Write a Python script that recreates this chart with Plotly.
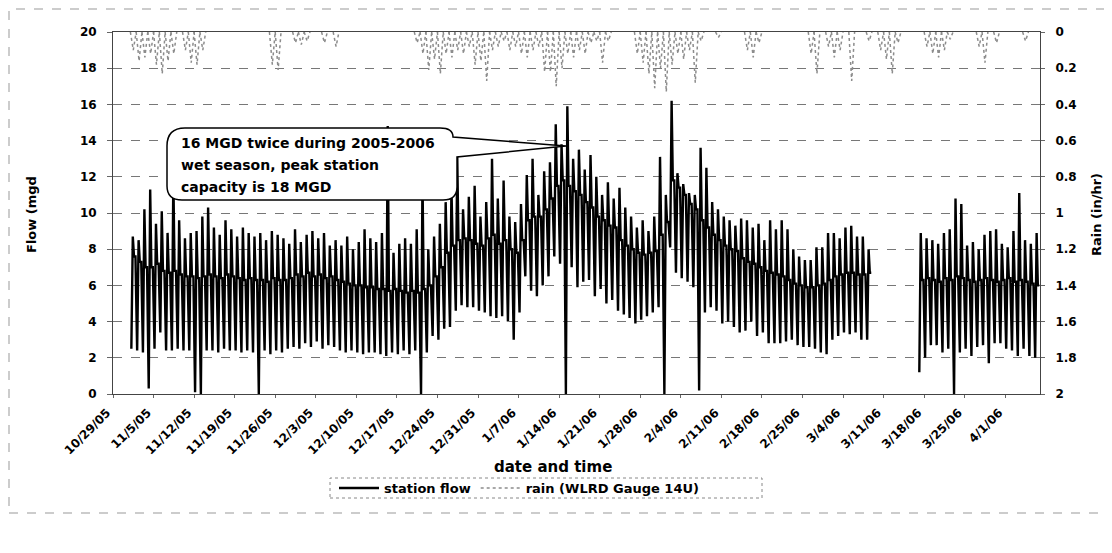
import pandas as pd
import plotly.graph_objects as go

# ---------------- data ----------------
# Station flow, daily min / max / typical level (mgd)
seg1_start = "2005-11-01"   # 128 days, through 3/8/06
seg2_start = "2006-03-17"   # 21 days, through 4/6/06

flow_max_1 = [
    8.7, 8.5, 10.2, 11.3, 9.4, 10.1, 8.9,
    12.0, 9.6, 8.6, 8.9, 9.0, 9.8, 10.3,
    9.2, 8.8, 9.6, 9.1, 8.7, 9.2, 8.9,
    8.7, 8.9, 8.5, 9.0, 8.8, 8.6, 8.3,
    9.1, 8.4, 8.8, 9.0, 8.6, 8.9, 8.2,
    8.5, 8.2, 8.7, 8.0, 8.4, 9.1, 8.6,
    8.4, 8.9, 14.8, 7.8, 8.3, 8.6, 8.3,
    9.1, 12.0, 8.0, 8.7, 9.4, 10.6, 11.4,
    13.1, 10.2, 10.9, 11.5, 9.8, 10.6, 13.0,
    10.8, 11.8, 9.8, 9.5, 10.5, 12.1, 13.0,
    11.0, 12.3, 12.8, 14.9, 13.8, 15.9, 13.0,
    13.5, 12.4, 13.2, 12.0, 11.0, 11.7, 10.8,
    11.4, 10.3, 9.8, 9.2, 9.6, 9.0, 9.8,
    13.1, 11.0, 16.2, 12.2, 11.6, 11.1, 11.0,
    13.6, 12.5, 10.6, 10.2, 9.8, 9.6, 9.3,
    9.7, 9.6, 9.2, 9.4, 8.5, 9.6, 9.1,
    9.6, 9.1, 8.0, 7.6, 7.4, 7.4, 8.1,
    8.1, 8.9, 8.9, 8.6, 9.2, 9.3, 8.7,
    8.7, 8.0,
]
flow_min_1 = [
    2.5, 2.4, 2.3, 0.3, 2.5, 3.4, 2.4,
    2.4, 2.5, 2.4, 2.4, 0.1, 0.0, 2.4,
    2.4, 2.3, 2.5, 2.4, 2.4, 2.3, 2.4,
    2.3, 0.0, 2.4, 2.2, 2.4, 2.3, 2.5,
    2.6, 2.5, 2.8, 2.6, 2.9, 2.5, 2.7,
    2.6, 2.4, 2.3, 2.4, 2.3, 2.2, 2.3,
    2.3, 2.2, 2.1, 2.3, 2.2, 2.4, 2.2,
    2.4, 0.0, 2.3, 3.2, 3.0, 3.6, 3.7,
    4.6, 4.9, 4.8, 4.8, 4.6, 4.5, 4.3,
    4.2, 4.3, 4.0, 3.0, 4.5, 6.5, 5.7,
    5.4, 6.0, 6.5, 7.6, 7.2, 0.0, 7.0,
    5.9, 6.2, 6.3, 5.4, 5.8, 5.0, 5.2,
    4.6, 4.4, 4.2, 3.9, 4.1, 4.3, 4.5,
    4.8, 0.0, 8.1, 6.7, 6.4, 6.2, 5.9,
    0.2, 4.5, 4.8, 4.6, 3.9, 4.0, 3.7,
    3.4, 3.5, 4.0, 3.2, 3.4, 2.8, 2.8,
    2.8, 2.9, 3.0, 2.7, 2.6, 2.6, 2.5,
    2.3, 2.2, 3.0, 3.2, 3.4, 3.3, 3.4,
    3.0, 3.0,
]
flow_mid_1 = [
    7.6, 7.3, 7.0, 7.0, 7.2, 6.8, 6.7,
    6.8, 6.6, 6.5, 6.5, 6.4, 6.5, 6.6,
    6.5, 6.4, 6.6, 6.5, 6.4, 6.3, 6.4,
    6.3, 6.3, 6.2, 6.4, 6.3, 6.3, 6.4,
    6.6, 6.5, 6.7, 6.5, 6.6, 6.4, 6.5,
    6.3, 6.2, 6.1, 6.0, 6.0, 5.9, 5.9,
    5.8, 5.8, 5.7, 5.8, 5.7, 5.6, 5.7,
    5.6, 5.8, 6.0, 6.5, 7.0, 7.8, 8.2,
    8.5, 8.6, 8.5, 8.3, 8.2, 8.6, 8.8,
    8.3, 8.5, 8.0, 7.8, 8.5, 9.6, 9.8,
    9.8, 10.2, 10.8, 11.5, 11.8, 11.5, 11.2,
    11.0, 10.6, 10.3, 9.8, 9.6, 9.3, 9.2,
    8.5, 8.2, 8.0, 7.8, 7.7, 7.8, 7.9,
    8.8, 9.5, 11.8, 11.4, 11.0, 10.5, 10.2,
    9.6, 9.2, 8.8, 8.5, 8.2, 8.0, 7.9,
    7.5, 7.3, 7.2, 7.0, 6.8, 6.7, 6.6,
    6.5, 6.3, 6.1, 6.0, 5.9, 5.9, 6.0,
    6.1, 6.3, 6.5, 6.6, 6.7, 6.7, 6.6,
    6.6, 6.7,
]
flow_max_2 = [8.9, 8.6, 8.5, 8.3, 8.9, 9.1, 10.8, 10.5, 8.2, 8.4, 8.0,
              8.8, 9.0, 9.1, 8.3, 8.1, 9.0, 11.1, 8.5, 8.3, 8.9]
flow_min_2 = [1.2, 2.0, 2.7, 2.7, 2.3, 2.5, 0.0, 2.3, 2.5, 2.1, 2.6,
              2.7, 1.7, 2.8, 2.8, 2.5, 2.4, 2.1, 2.5, 2.1, 2.0]
flow_mid_2 = [6.3, 6.4, 6.3, 6.2, 6.4, 6.3, 6.5, 6.4, 6.3, 6.2, 6.3,
              6.4, 6.3, 6.2, 6.3, 6.4, 6.2, 6.3, 6.2, 6.1, 6.0]

# Rain (in/hr), daily peak intensity on rainy days
rain_dates = [
    "2005-11-01", "2005-11-02", "2005-11-03", "2005-11-04", "2005-11-05", "2005-11-06",
    "2005-11-07", "2005-11-08", "2005-11-10", "2005-11-11", "2005-11-12", "2005-11-13",
    "2005-11-25", "2005-11-26", "2005-11-29", "2005-11-30", "2005-12-01", "2005-12-04",
    "2005-12-06", "2005-12-20", "2005-12-21", "2005-12-22", "2005-12-23", "2005-12-24",
    "2005-12-25", "2005-12-26", "2005-12-27", "2005-12-28", "2005-12-29", "2005-12-30",
    "2005-12-31", "2006-01-01", "2006-01-02", "2006-01-03", "2006-01-04", "2006-01-05",
    "2006-01-06", "2006-01-07", "2006-01-08", "2006-01-09", "2006-01-10", "2006-01-11",
    "2006-01-12", "2006-01-13", "2006-01-14", "2006-01-15", "2006-01-16", "2006-01-17",
    "2006-01-18", "2006-01-19", "2006-01-20", "2006-01-21", "2006-01-22", "2006-01-27",
    "2006-01-28", "2006-01-29", "2006-01-30", "2006-01-31", "2006-02-01", "2006-02-02",
    "2006-02-03", "2006-02-04", "2006-02-05", "2006-02-06", "2006-02-07", "2006-02-10",
    "2006-02-15", "2006-02-16", "2006-02-17", "2006-02-26", "2006-02-27", "2006-03-01",
    "2006-03-02", "2006-03-03", "2006-03-05", "2006-03-08", "2006-03-10", "2006-03-11",
    "2006-03-12", "2006-03-13", "2006-03-18", "2006-03-19", "2006-03-20", "2006-03-21",
    "2006-03-22", "2006-03-27", "2006-03-28", "2006-03-30", "2006-04-04",
]
rain_peak = [
    0.10, 0.16, 0.14, 0.12, 0.18, 0.23,
    0.16, 0.12, 0.10, 0.17, 0.18, 0.10,
    0.18, 0.21, 0.06, 0.07, 0.05, 0.06,
    0.08, 0.06, 0.12, 0.21, 0.15, 0.23,
    0.12, 0.14, 0.10, 0.12, 0.08, 0.18,
    0.16, 0.27, 0.10, 0.08, 0.05, 0.10,
    0.08, 0.12, 0.14, 0.10, 0.08, 0.22,
    0.22, 0.30, 0.20, 0.12, 0.14, 0.10,
    0.12, 0.06, 0.05, 0.17, 0.05, 0.12,
    0.17, 0.23, 0.31, 0.20, 0.33, 0.18,
    0.12, 0.15, 0.10, 0.28, 0.05, 0.03,
    0.10, 0.14, 0.06, 0.12, 0.23, 0.08,
    0.14, 0.10, 0.27, 0.05, 0.10, 0.15,
    0.23, 0.06, 0.08, 0.12, 0.14, 0.10,
    0.04, 0.08, 0.17, 0.06, 0.05,
]

x_ticks_start = "2005-10-29"
x_range = ["2005-10-29", "2006-04-07"]

# ---------------- build series ----------------
H = pd.Timedelta(hours=1)


def diurnal(start, mins, maxs, mids):
    days = pd.date_range(start, periods=len(maxs), freq="D")
    xs, ys = [], []
    for d, lo, hi, md in zip(days, mins, maxs, mids):
        xs += [d + 4 * H, d + 10 * H, d + 15 * H, d + 21 * H]
        ys += [lo, hi, md, md]
    return xs, ys


x1, y1 = diurnal(seg1_start, flow_min_1, flow_max_1, flow_mid_1)
x2, y2 = diurnal(seg2_start, flow_min_2, flow_max_2, flow_mid_2)
flow_x = x1 + [x1[-1] + 6 * H] + x2
flow_y = y1 + [None] + y2

rx, ry = [], []
for ds, v in zip(rain_dates, rain_peak):
    d = pd.Timestamp(ds)
    rx += [d, d + 12 * H, d + 24 * H, None]
    ry += [0, v, 0, None]

# ---------------- geometry helpers (screen pixel -> paper) ----------------
# the page body has an 8px margin, so the figure is offset by 8px on screen
OFF = 8
L, R, T, B = 113, 1040, 32, 394
W, HGT = 1112, 553


def px(x):
    return (x - L) / (R - L)


def py(y):
    return (B - y) / (B - T)


FONT = "DejaVu Sans"

fig = go.Figure()
fig.add_trace(go.Scatter(
    x=rx, y=ry, mode="lines", name="rain (WLRD Gauge 14U)", yaxis="y2",
    line=dict(color="#8c8c8c", width=1.5, dash="dot"), connectgaps=False,
))
fig.add_trace(go.Scatter(
    x=flow_x, y=flow_y, mode="lines", name="station flow",
    line=dict(color="black", width=2.4), connectgaps=False,
))

fig.update_layout(
    width=W, height=HGT,
    margin=dict(l=L - OFF, r=W - (R - OFF), t=T - OFF, b=HGT - (B - OFF), autoexpand=False),
    paper_bgcolor="white", plot_bgcolor="white",
    font=dict(family=FONT, color="black", size=12, weight="bold"),
    showlegend=True,
    legend=dict(orientation="h", x=px(334), xanchor="left", y=py(488), yanchor="middle",
                font=dict(size=13, family=FONT, weight="bold"), bgcolor="rgba(0,0,0,0)",
                itemwidth=40, tracegroupgap=0, traceorder="reversed"),
    xaxis=dict(type="date", range=x_range, tick0=x_ticks_start, dtick=7 * 86400000,
               tickformat="%-m/%-d/%y", tickangle=-45, showgrid=False,
               showline=True, linecolor="#444", linewidth=1, mirror=True,
               ticks="outside", ticklen=3, tickcolor="#666",
               ticklabelshift=-6, ticklabelstandoff=3,
               tickfont=dict(size=12, family=FONT, weight="bold")),
    yaxis=dict(range=[0, 20], dtick=2, showgrid=True, gridcolor="#777", gridwidth=1,
               griddash="dash", zeroline=False, showline=True, linecolor="#444",
               linewidth=1, mirror=True, ticks="outside", ticklen=5, tickcolor="#666",
               ticklabelstandoff=8,
               tickfont=dict(size=12, family=FONT, weight="bold")),
    yaxis2=dict(range=[2, 0], dtick=0.2, overlaying="y", side="right", showgrid=False,
                zeroline=False, showline=True, linecolor="#444", ticks="outside",
                ticklen=4, tickcolor="#666", ticklabelstandoff=8,
                tickfont=dict(size=12, family=FONT, weight="bold")),
)

# callout box
path = (f"M {px(185)},{py(128)} L {px(440)},{py(128)} Q {px(453)},{py(128)} {px(453)},{py(137)} "
        f"L {px(566)},{py(146)} L {px(457)},{py(157)} L {px(457)},{py(187)} "
        f"Q {px(457)},{py(200)} {px(443)},{py(200)} L {px(182)},{py(200)} "
        f"Q {px(167)},{py(200)} {px(167)},{py(186)} L {px(167)},{py(146)} "
        f"Q {px(167)},{py(128)} {px(185)},{py(128)} Z")
fig.add_shape(type="path", path=path, xref="paper", yref="paper",
              line=dict(color="black", width=1.5), fillcolor="white", layer="above")

for txt, yy in [("16 MGD twice during 2005-2006", 143),
                ("wet season, peak station", 165),
                ("capacity is 18 MGD", 187)]:
    fig.add_annotation(x=px(179), y=py(yy), xref="paper", yref="paper", text=txt,
                       showarrow=False, xanchor="left", yanchor="middle",
                       font=dict(size=14, family=FONT, weight="bold", color="black"))

# axis titles
fig.add_annotation(x=px(31), y=py(215), xref="paper", yref="paper", text="Flow (mgd",
                   textangle=-90, showarrow=False, xanchor="center", yanchor="middle",
                   font=dict(size=13, family=FONT, weight="bold"))
fig.add_annotation(x=px(1096), y=py(215), xref="paper", yref="paper", text="Rain (in/hr)",
                   textangle=-90, showarrow=False, xanchor="center", yanchor="middle",
                   font=dict(size=13, family=FONT, weight="bold"))
fig.add_annotation(x=px(553), y=py(467), xref="paper", yref="paper", text="date and time",
                   showarrow=False, xanchor="center", yanchor="middle",
                   font=dict(size=15, family=FONT, weight="bold"))

# legend frame and outer frame
fig.add_shape(type="rect", xref="paper", yref="paper", x0=px(330), x1=px(762),
              y0=py(498), y1=py(478), line=dict(color="#888", width=1, dash="dot"))
fig.add_shape(type="rect", xref="paper", yref="paper", x0=px(9), x1=px(1106),
              y0=py(513), y1=py(9), line=dict(color="#999", width=1, dash="dash"))

fig.write_html("out.html")
